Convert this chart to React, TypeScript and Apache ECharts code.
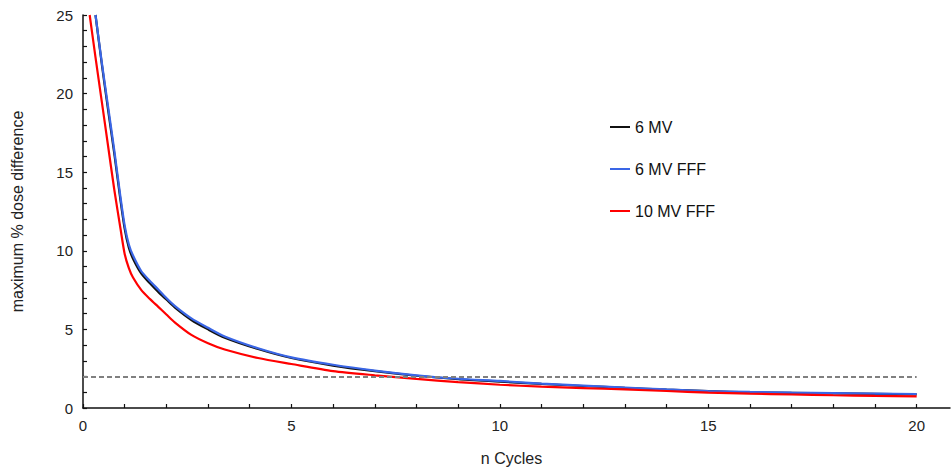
import React, { useEffect, useRef } from "react";
import * as echarts from "echarts";

const seriesNames = ["6 MV", "6 MV FFF", "10 MV FFF"];

const xBlack = [0.3, 0.45, 0.6, 0.75, 0.9, 1.0, 1.1, 1.2, 1.4, 1.6, 1.8, 2.0, 2.2, 2.6, 3.0, 3.4, 4.2, 5, 6, 7, 8, 9, 10, 11, 12, 13, 14, 15, 16, 17, 18, 19, 20];
const yBlack = [25, 21.9, 19.0, 16.2, 13.2, 11.4, 10.2, 9.5, 8.55, 7.95, 7.4, 6.9, 6.4, 5.6, 5.0, 4.47, 3.75, 3.18, 2.7, 2.34, 2.05, 1.83, 1.68, 1.53, 1.4, 1.28, 1.17, 1.07, 1.0, 0.96, 0.93, 0.9, 0.87];

const xBlue = [0.3, 0.45, 0.6, 0.75, 0.9, 1.0, 1.1, 1.2, 1.4, 1.6, 1.8, 2.0, 2.2, 2.6, 3.0, 3.4, 4.2, 5, 6, 7, 8, 9, 10, 11, 12, 13, 14, 15, 16, 17, 18, 19, 20];
const yBlue = [25, 22.0, 19.2, 16.4, 13.4, 11.6, 10.4, 9.7, 8.7, 8.1, 7.55, 7.0, 6.5, 5.7, 5.1, 4.55, 3.8, 3.22, 2.75, 2.38, 2.08, 1.86, 1.72, 1.55, 1.42, 1.3, 1.18, 1.08, 1.02, 0.98, 0.95, 0.92, 0.89];

const xRed = [0.16, 0.3, 0.45, 0.6, 0.75, 0.9, 1.0, 1.1, 1.2, 1.4, 1.6, 1.8, 2.0, 2.2, 2.6, 3.0, 3.4, 4.2, 5, 6, 7, 8, 9, 10, 11, 12, 13, 14, 15, 16, 17, 18, 19, 20];
const yRed = [25, 22.3, 19.5, 16.7, 13.9, 11.4, 9.8, 8.9, 8.3, 7.5, 6.95, 6.45, 5.95, 5.45, 4.65, 4.12, 3.72, 3.18, 2.8, 2.35, 2.08, 1.85, 1.65, 1.48, 1.36, 1.27, 1.18, 1.08, 0.98, 0.91, 0.86, 0.81, 0.77, 0.74];

const thresholdY = 2;
const xTicks = [0, 1, 2, 3, 4, 5, 6, 7, 8, 9, 10, 11, 12, 13, 14, 15, 16, 17, 18, 19, 20];
const xLabels = [0, 5, 10, 15, 20];
const yTicks = [0, 1, 2, 3, 4, 5, 6, 7, 8, 9, 10, 11, 12, 13, 14, 15, 16, 17, 18, 19, 20, 21, 22, 23, 24, 25];
const yLabels = [0, 5, 10, 15, 20, 25];

const zip = (xs: number[], ys: number[]) => xs.map((x, i) => [x, ys[i]]);

const FONT = "'Liberation Sans', Arial, Helvetica, sans-serif";

export default function App() {
  const ref = useRef<HTMLDivElement>(null);
  useEffect(() => {
    if (!ref.current) return;
    const chart = echarts.init(ref.current, undefined, { renderer: "svg" });
    const lineCommon = {
      type: "line",
      showSymbol: false,
      symbol: "none",
      smooth: 0.25,
      clip: true,
    };
    chart.setOption({
      animation: false,
      backgroundColor: "#fff",
      textStyle: { fontFamily: FONT },
      grid: { left: 83, right: 2, top: 15, bottom: 60, outerBoundsMode: "none", containLabel: false },
      legend: {
        orient: "vertical",
        left: 605,
        top: 114,
        itemWidth: 20,
        itemHeight: 2,
        itemGap: 26,
        icon: "rect",
        textStyle: { fontSize: 16, color: "#111", fontFamily: FONT },
        data: seriesNames,
      },
      xAxis: {
        type: "value",
        min: 0,
        max: 20.8,
        name: "n Cycles",
        nameLocation: "middle",
        nameGap: 42,
        nameTextStyle: { fontSize: 16, color: "#222", fontFamily: FONT, padding: [0, 10, 0, 0] },
        axisLine: { show: true, onZero: false, lineStyle: { color: "#111", width: 1.5 } },
        axisTick: { show: true, inside: true, length: 4, customValues: xTicks, lineStyle: { color: "#111", width: 1.2 } },
        axisLabel: { customValues: xLabels, fontSize: 15, color: "#222", margin: 10, fontFamily: FONT },
        splitLine: { show: false },
      },
      yAxis: {
        type: "value",
        min: 0,
        max: 25,
        interval: 5,
        name: "maximum % dose difference",
        nameLocation: "middle",
        nameGap: 58,
        nameTextStyle: { fontSize: 16, color: "#222", fontFamily: FONT },
        axisLine: { show: true, lineStyle: { color: "#111", width: 1.5 } },
        axisTick: { show: true, inside: true, length: 4, customValues: yTicks, lineStyle: { color: "#111", width: 1.2 } },
        axisLabel: { customValues: yLabels, fontSize: 15, color: "#222", margin: 10, fontFamily: FONT },
        splitLine: { show: false },
      },
      series: [
        {
          ...lineCommon,
          name: seriesNames[0],
          data: zip(xBlack, yBlack),
          lineStyle: { color: "#111", width: 2.2 },
          itemStyle: { color: "#111" },
          z: 2,
          markLine: {
            silent: true,
            symbol: "none",
            label: { show: false },
            lineStyle: { color: "#808080", type: [5, 3], width: 2, opacity: 1 },
            data: [[{ coord: [0, thresholdY] }, { coord: [20, thresholdY] }]],
          },
        },
        {
          ...lineCommon,
          name: seriesNames[1],
          data: zip(xBlue, yBlue),
          lineStyle: { color: "#3a66e6", width: 2.2 },
          itemStyle: { color: "#3a66e6" },
          z: 3,
        },
        {
          ...lineCommon,
          name: seriesNames[2],
          data: zip(xRed, yRed),
          lineStyle: { color: "#ff0000", width: 2.2 },
          itemStyle: { color: "#ff0000" },
          z: 4,
        },
      ],
    });
    return () => chart.dispose();
  }, []);
  return <div ref={ref} style={{ width: 952, height: 468, position: "absolute", left: 0, top: 0 }} />;
}
